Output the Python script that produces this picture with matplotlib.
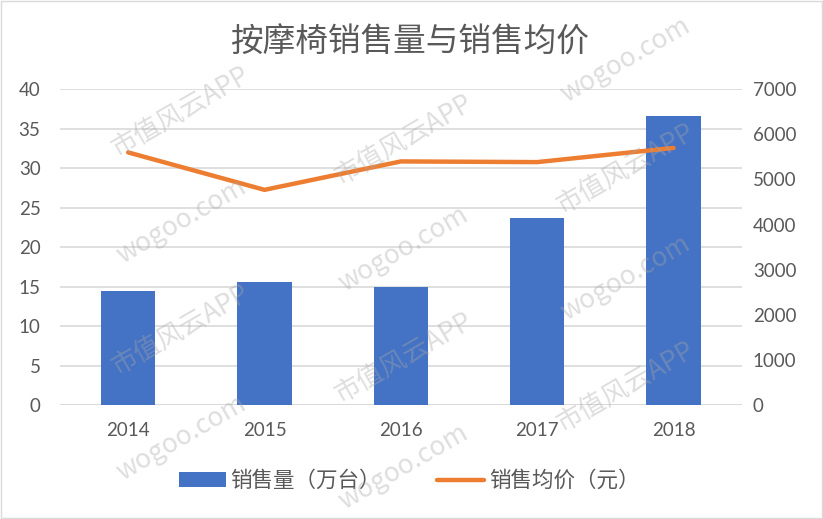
import matplotlib
matplotlib.use('Agg')
import matplotlib.pyplot as plt
import numpy as np

years = ['2014', '2015', '2016', '2017', '2018']
sales_volume = [14.4, 15.6, 15.0, 23.7, 36.6]      # 万台
avg_price = [5600, 4770, 5400, 5385, 5700]          # 元

left_ticks = [0, 5, 10, 15, 20, 25, 30, 35, 40]
right_ticks = [0, 1000, 2000, 3000, 4000, 5000, 6000, 7000]

cjk = ['Noto Sans CJK SC', 'DejaVu Sans']
num_font = ['Lato', 'Noto Sans CJK SC']
grey = '#595959'
blue = '#4472C4'
orange = '#ED7D31'

plt.rcParams['font.family'] = cjk

fig = plt.figure(figsize=(8.23, 5.19), dpi=100)
ax = fig.add_axes([0.0729, 0.2197, 0.8283, 0.6083])
ax2 = ax.twinx()

x = np.arange(len(years))
ax.bar(x, sales_volume, width=0.4, color=blue, zorder=2, label='销售量（万台）')
ax2.plot(x, avg_price, color=orange, linewidth=3.2, solid_capstyle='round',
         zorder=3, label='销售均价（元）')

ax.set_xlim(-0.5, len(years) - 0.5)
ax.set_ylim(0, 40)
ax2.set_ylim(0, 7000)
ax.set_yticks(left_ticks)
ax2.set_yticks(right_ticks)
ax.set_xticks(x)
ax.set_xticklabels(years)

ax.grid(axis='y', color='#d9d9d9', linewidth=1.2, zorder=0)
ax.set_axisbelow(True)
for a in (ax, ax2):
    for s in a.spines.values():
        s.set_visible(False)
    a.tick_params(length=0, labelsize=13.5, colors=grey)
    for lab in a.get_xticklabels() + a.get_yticklabels():
        lab.set_family(num_font)
ax.tick_params(axis='y', pad=14)
ax2.tick_params(axis='y', pad=8)
ax.tick_params(axis='x', pad=12)
ax.axhline(0, color='#d9d9d9', linewidth=1.2, zorder=1)

fig.text(0.497, 0.918, '按摩椅销售量与销售均价', ha='center', va='center',
         fontsize=23.5, color=grey)

h1, l1 = ax.get_legend_handles_labels()
h2, l2 = ax2.get_legend_handles_labels()
fig.legend(h1 + h2, l1 + l2, loc='center', bbox_to_anchor=(0.497, 0.073), ncol=2,
           frameon=False, fontsize=15.5, labelcolor=grey, handlelength=2.2,
           handletextpad=0.2, columnspacing=2.6)

# watermark, only the copies that fit inside the picture
marks = ['市值风云APP', 'wogoo.com']
fig.canvas.draw()
renderer = fig.canvas.get_renderer()
W, H = fig.bbox.width, fig.bbox.height
for r in range(-4, 9):
    for c in range(-2, 8):
        px = c * 0.27 - 0.05
        py = r * 0.21 + c * 0.155
        if not (-0.1 < px < 1.1 and -0.1 < py < 1.1):
            continue
        t = fig.text(px, py, marks[(r + c) % 2], rotation=30, fontsize=19,
                     color='#a8a8a8', alpha=0.38, ha='center', va='center',
                     family=cjk, zorder=10)
        bb = t.get_window_extent(renderer)
        if bb.x0 < 2 or bb.y0 < 2 or bb.x1 > W - 2 or bb.y1 > H - 2:
            t.remove()

fig.add_artist(plt.Rectangle((0.001, 0.001), 0.998, 0.998, transform=fig.transFigure,
                             fill=False, edgecolor='#d9d9d9', linewidth=1))

fig.savefig('out.png', dpi=100)
